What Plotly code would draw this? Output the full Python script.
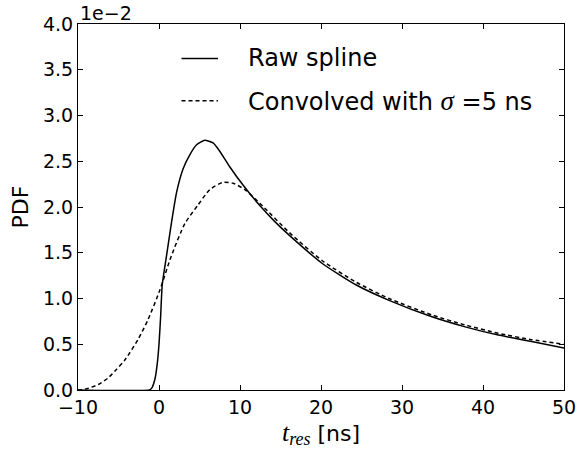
import plotly.graph_objects as go

# Residual-time PDF (values in units of 1e-2)
t_raw = [-10.0, -1.2, -0.9, -0.5, -0.2, 0.0, 0.2, 0.4, 0.95, 1.56, 2.17, 2.99, 3.8, 4.64, 5.66,
         6.68, 7.5, 8.73, 10.37, 12.5, 14.3, 16.1, 20.2, 24.3, 28.4, 33.7, 37.8, 41.9, 46.0, 50.0]
pdf_raw = [0.0, 0.0, 0.02, 0.12, 0.30, 0.50, 0.80, 1.15, 1.48, 1.84, 2.16, 2.42, 2.57, 2.68, 2.73,
           2.70, 2.61, 2.44, 2.24, 2.01, 1.84, 1.69, 1.38, 1.15, 0.98, 0.80, 0.69, 0.60, 0.53, 0.46]

t_conv = [-10.0, -9.5, -8.7, -7.5, -6.3, -5.2, -4.2, -2.6, -1.35, 0.1, 1.5, 3.2, 4.8, 6.27,
          7.9, 9.14, 10.6, 12.8, 16.1, 20.2, 24.3, 28.4, 33.7, 37.8, 41.9, 46.0, 50.0]
pdf_conv = [0.0, 0.003, 0.02, 0.06, 0.13, 0.23, 0.33, 0.55, 0.77, 1.09, 1.46, 1.82, 2.02, 2.19,
            2.27, 2.26, 2.19, 2.01, 1.72, 1.41, 1.18, 1.00, 0.82, 0.71, 0.62, 0.55, 0.50]

x_ticks = [-10, 0, 10, 20, 30, 40, 50]
y_ticks = [0.0, 0.5, 1.0, 1.5, 2.0, 2.5, 3.0, 3.5, 4.0]

SANS = "DejaVu Sans"
MATH = "'Liberation Serif'"


def math(s, size=None):
    extra = f";font-size:{size}px" if size else ""
    return f"<span style=\"font-family:{MATH};font-style:italic{extra}\">{s}</span>"


legend_labels = [
    "Raw spline",
    f"Convolved with {math('σ', 27)} =5 ns",
]

fig = go.Figure()
fig.add_trace(go.Scatter(x=t_raw, y=pdf_raw, mode="lines",
                         line=dict(color="black", width=1.5, shape="spline", smoothing=0.5),
                         showlegend=False))
fig.add_trace(go.Scatter(x=t_conv, y=pdf_conv, mode="lines",
                         line=dict(color="black", width=1.5, dash="4px,3px", shape="spline", smoothing=0.6),
                         showlegend=False))

axis_common = dict(showline=True, linecolor="black", linewidth=1, mirror="ticks",
                   ticks="inside", ticklen=5, tickcolor="black", tickwidth=1,
                   showgrid=False, zeroline=False,
                   tickfont=dict(family=SANS, size=19, color="black"))

fig.update_xaxes(range=[-10, 50], tickvals=x_ticks, **axis_common,
                 title=dict(text=f"{math('t', 26)}<sub>{math('res', 18)}</sub> [ns]",
                            font=dict(family=SANS, size=22, color="black"), standoff=6))
fig.update_yaxes(range=[0, 4.0], tickvals=y_ticks, tickformat=".1f", **axis_common,
                 title=dict(text="PDF", font=dict(family=SANS, size=22, color="black"), standoff=8))

# legend drawn as text plus sample strokes
leg_y = [0.906, 0.79]
leg_dash = ["solid", "4px,3px"]
for lbl, yy, dsh in zip(legend_labels, leg_y, leg_dash):
    fig.add_shape(type="line", xref="paper", yref="paper", x0=0.213, x1=0.288, y0=yy, y1=yy,
                  line=dict(color="black", width=1.5, dash=dsh))
    fig.add_annotation(xref="paper", yref="paper", x=0.345, y=yy, text=lbl, showarrow=False,
                       xanchor="left", yanchor="middle",
                       font=dict(family=SANS, size=24, color="black"))

# offset multiplier for the y axis
fig.add_annotation(xref="paper", yref="paper", x=0, y=1, text="1e−2", showarrow=False,
                   xanchor="left", yanchor="bottom", yshift=-2,
                   font=dict(family=SANS, size=19, color="black"))

fig.update_layout(width=588, height=452, margin=dict(l=78, r=24, t=24, b=62),
                  plot_bgcolor="white", paper_bgcolor="white")

fig.write_html("out.html")
